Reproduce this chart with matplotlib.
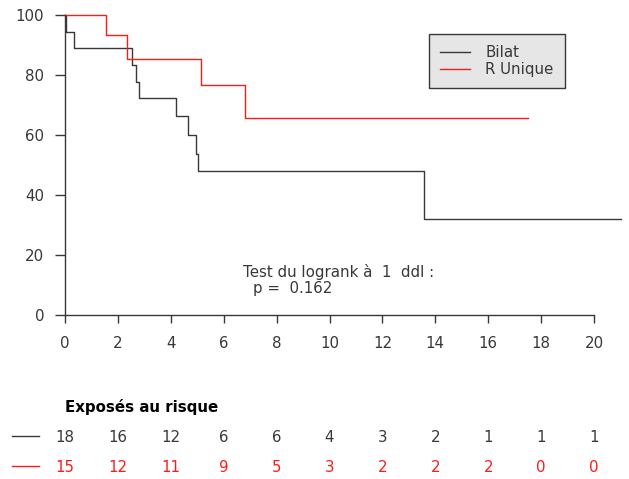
import matplotlib
matplotlib.use("Agg")
import matplotlib.pyplot as plt
from matplotlib.lines import Line2D
import matplotlib.transforms as mtransforms

plt.rcParams['font.family'] = ['DejaVu Sans']

# Data
bilat_time = [0, 0.02, 0.34, 2.52, 2.68, 2.81, 4.18, 4.66, 4.95, 5.02, 13.58, 21.02]
bilat_surv = [100, 94.4, 88.9, 83.3, 77.8, 72.2, 66.2, 60.0, 53.8, 48.1, 31.9, 31.9]
unique_time = [0, 1.55, 2.36, 5.13, 6.81, 17.52]
unique_surv = [100, 93.3, 85.3, 76.6, 65.6, 65.6]
series_labels = ["Bilat", "R Unique"]
risk_times = [0, 2, 4, 6, 8, 10, 12, 14, 16, 18, 20]
risk_bilat = [18, 16, 12, 6, 6, 4, 3, 2, 1, 1, 1]
risk_unique = [15, 12, 11, 9, 5, 3, 2, 2, 2, 0, 0]
x_ticks = [0, 2, 4, 6, 8, 10, 12, 14, 16, 18, 20]
y_ticks = [0, 20, 40, 60, 80, 100]
test_line1 = "Test du logrank à  1  ddl :"
test_line2 = "p =  0.162"
table_title = "Exposés au risque"

W, H = 629, 479
fig = plt.figure(figsize=(W / 100, H / 100), dpi=100)
fig.patch.set_facecolor('white')

FS = 10.8
xmax = 21.2
ymax = 101
px_x = 26.45
px_y = 3.0
ax = fig.add_axes([65 / W, (H - 315) / H, xmax * px_x / W, ymax * px_y / H])
ax.set_xlim(0, xmax)
ax.set_ylim(0, ymax)

black = '#383838'
red = '#ff1a1a'
ax.step(bilat_time, bilat_surv, where='post', color=black, lw=1.0, label=series_labels[0], clip_on=False)
ax.step(unique_time, unique_surv, where='post', color=red, lw=1.0, label=series_labels[1], clip_on=False)

for s in ['top', 'right']:
    ax.spines[s].set_visible(False)
ax.spines['left'].set_bounds(0, 100)
ax.spines['bottom'].set_bounds(0, 20)
for s in ['left', 'bottom']:
    ax.spines[s].set_color(black)
    ax.spines[s].set_linewidth(1.0)
ax.set_xticks(x_ticks)
ax.set_yticks(y_ticks)
ax.tick_params(axis='y', length=7, width=1, color=black, labelcolor=black, labelsize=FS, pad=8)
ax.tick_params(axis='x', length=6, width=1, color=black, labelcolor=black, labelsize=FS, pad=9)

ax.text(6.74, 14.3, test_line1, fontsize=FS, color=black, ha='left', va='center')
ax.text(7.12, 8.8, test_line2, fontsize=FS, color=black, ha='left', va='center')

handles = [Line2D([], [], color=black, lw=1.0), Line2D([], [], color=red, lw=1.0)]
leg = ax.legend(handles, series_labels, loc='upper left',
                bbox_to_anchor=(429 / W, 1 - 34 / H), bbox_transform=fig.transFigure,
                fancybox=False, framealpha=1, facecolor='#e6e6e6', edgecolor=black,
                fontsize=FS, handlelength=2.0, handletextpad=1.0, labelspacing=0.1,
                borderpad=0.75, borderaxespad=0)
leg.get_frame().set_linewidth(1.0)
for t in leg.get_texts():
    t.set_color(black)

trans = mtransforms.blended_transform_factory(ax.transData, fig.transFigure)
fig.text(65 / W, 1 - 407 / H, table_title, fontsize=FS, fontweight='bold', color='black', ha='left', va='center')
for t, n1, n2 in zip(risk_times, risk_bilat, risk_unique):
    ax.text(t, 1 - 437 / H, str(n1), transform=trans, fontsize=FS, color=black, ha='center', va='center')
    ax.text(t, 1 - 467 / H, str(n2), transform=trans, fontsize=FS, color=red, ha='center', va='center')
fig.add_artist(Line2D([12 / W, 39 / W], [1 - 436 / H, 1 - 436 / H], color=black, lw=1.0))
fig.add_artist(Line2D([12 / W, 39 / W], [1 - 466 / H, 1 - 466 / H], color=red, lw=1.0))

fig.savefig('out.png', dpi=100, facecolor='white')
